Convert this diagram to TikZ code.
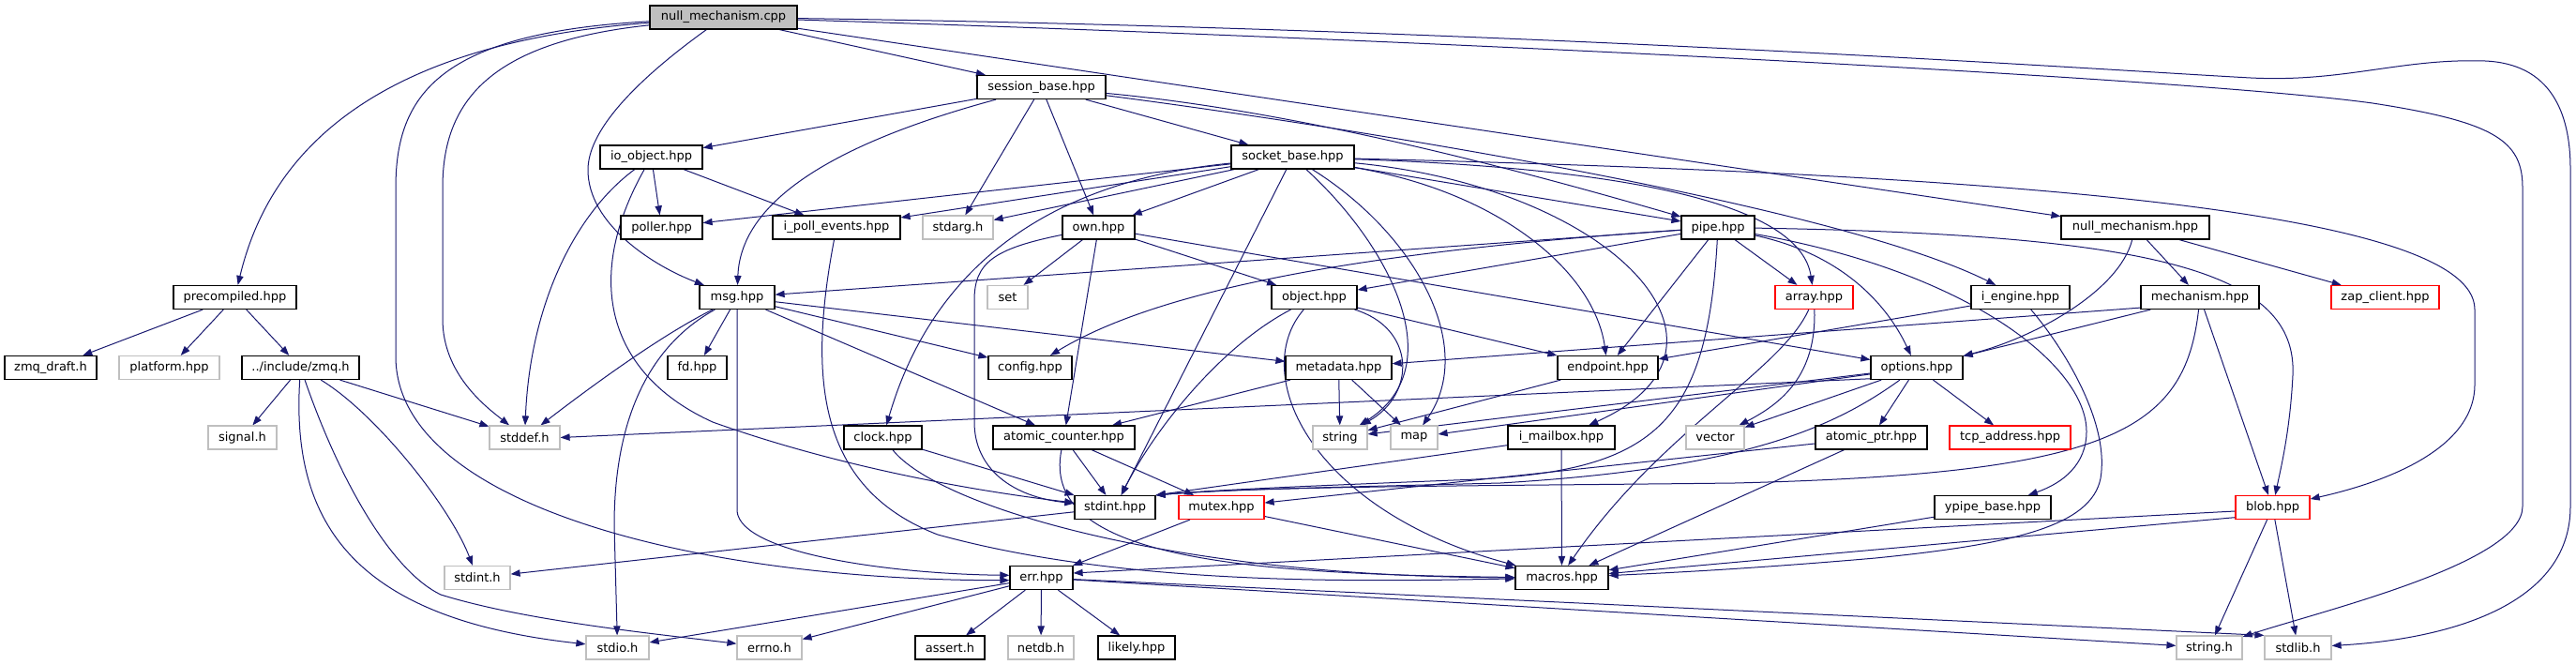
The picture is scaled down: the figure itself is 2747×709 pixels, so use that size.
\documentclass[tikz,border=0pt]{standalone}
\usepackage{fontspec}
\setmainfont{DejaVu Sans}
\usetikzlibrary{arrows.meta}
\pgfdeclarelayer{bg}
\pgfsetlayers{bg,main}
\definecolor{eblue}{HTML}{191970}
\definecolor{sysgray}{HTML}{BFBFBF}
\definecolor{rootfill}{HTML}{BFBFBF}
\begin{document}
\begin{tikzpicture}[x=0.75pt,y=-0.75pt,
  box/.style={draw=black,fill=white,line width=0.9pt,minimum height=18.75pt,minimum width=#1*0.75pt,inner sep=0pt,font=\fontsize{9.75}{11}\selectfont},
  sys/.style={box=#1,draw=sysgray},
  trunc/.style={box=#1,draw=red},
  dep/.style={draw=eblue,line width=0.75pt,-{Triangle[length=7.5pt,width=5.5pt]}}]
\useasboundingbox (0,0) rectangle (2747,709);
% rank 0
\node[box=157,fill=rootfill] (nmc) at (771.5,18.5) {null\_mechanism.cpp};
% rank 1
\node[box=137] (sb) at (1110.5,93) {session\_base.hpp};
% rank 2
\node[box=109] (io) at (694.5,167.5) {io\_object.hpp};
\node[box=131] (skb) at (1378.5,167.5) {socket\_base.hpp};
% rank 3
\node[box=87] (poller) at (705.5,242.5) {poller.hpp};
\node[box=136] (ipe) at (892,242.5) {i\_poll\_events.hpp};
\node[sys=75] (stdarg) at (1021.5,242.5) {stdarg.h};
\node[box=77] (own) at (1171.5,242.5) {own.hpp};
\node[box=78] (pipe) at (1832,242.5) {pipe.hpp};
\node[box=158] (nmh) at (2277,242.5) {null\_mechanism.hpp};
% rank 4
\node[box=131] (prec) at (250.5,317) {precompiled.hpp};
\node[box=80] (msg) at (786,317) {msg.hpp};
\node[sys=43] (set) at (1074.5,317) {set};
\node[box=91] (object) at (1401.5,317) {object.hpp};
\node[trunc=83] (array) at (1934.5,317) {array.hpp};
\node[box=105] (iengine) at (2154.5,317) {i\_engine.hpp};
\node[box=126] (mech) at (2346,317) {mechanism.hpp};
\node[trunc=115] (zap) at (2543.5,317) {zap\_client.hpp};
% rank 5
\node[box=98] (zmqdraft) at (54,392) {zmq\_draft.h};
\node[sys=107] (platform) at (180.5,392) {platform.hpp};
\node[box=125] (zmqh) at (320.5,392) {../include/zmq.h};
\node[box=63] (fd) at (743.5,392) {fd.hpp};
\node[box=89] (config) at (1098.5,392) {config.hpp};
\node[box=113] (metadata) at (1427.5,392) {metadata.hpp};
\node[box=107] (endpoint) at (1714.5,392) {endpoint.hpp};
\node[box=98] (options) at (2044,392) {options.hpp};
% rank 6
\node[sys=73] (signal) at (258.5,466.5) {signal.h};
\node[sys=75] (stddef) at (559.5,466.5) {stddef.h};
\node[box=83] (clock) at (941.5,466.5) {clock.hpp};
\node[box=151] (actr) at (1134.5,466.5) {atomic\_counter.hpp};
\node[sys=58] (string) at (1429,466.5) {string};
\node[sys=50] (map) at (1508,466.5) {map};
\node[box=114] (imailbox) at (1665,466.5) {i\_mailbox.hpp};
\node[sys=62] (vector) at (1829,466.5) {vector};
\node[box=119] (aptr) at (1995.5,466.5) {atomic\_ptr.hpp};
\node[trunc=129] (tcp) at (2143.5,466.5) {tcp\_address.hpp};
% rank 7
\node[box=86] (stdinthpp) at (1189,541) {stdint.hpp};
\node[trunc=91] (mutex) at (1302.5,541) {mutex.hpp};
\node[box=124] (ypipe) at (2125,541) {ypipe\_base.hpp};
\node[trunc=79] (blob) at (2423.5,541) {blob.hpp};
% rank 8
\node[sys=70] (stdinth) at (509,616) {stdint.h};
\node[box=67] (err) at (1110.5,616) {err.hpp};
\node[box=99] (macros) at (1665.5,616) {macros.hpp};
% rank 9
\node[sys=67] (stdio) at (658.5,690.5) {stdio.h};
\node[sys=69] (errno) at (820.5,690.5) {errno.h};
\node[box=74] (assert) at (1013,690.5) {assert.h};
\node[sys=70] (netdb) at (1110,690.5) {netdb.h};
\node[box=82] (likely) at (1212,690.5) {likely.hpp};
\node[sys=70] (stringh) at (2356,690.5) {string.h};
\node[sys=71] (stdlibh) at (2450.5,690.5) {stdlib.h};

\begin{pgfonlayer}{bg}
\fill[white] (0,0) rectangle (2747,709);
% null_mechanism.cpp
\draw[dep] (nmc) .. controls (480,40) and (300,110) .. (prec);
\draw[dep] (nmc) .. controls (520,45) and (472,110) .. (472,200) -- (472,340) .. controls (472,400) and (520,435) .. (stddef);
\draw[dep] (nmc) .. controls (470,35) and (422,100) .. (422,200) -- (422,380) .. controls (422,540) and (750,619) .. ([yshift=-2pt]err.west);
\draw[dep] (nmc) .. controls (700,70) and (628,130) .. (627,180) .. controls (626,240) and (700,285) .. (msg);
\draw[dep] (nmc) -- (sb);
\draw[dep] (nmc) -- (nmh);
\draw[dep] (nmc) .. controls (1600,45) and (2350,85) .. (2530,110) .. controls (2660,130) and (2690,150) .. (2690,200) -- (2690,540) .. controls (2690,600) and (2480,650) .. (stringh);
\draw[dep] (nmc) .. controls (1600,30) and (2250,75) .. (2400,83) .. controls (2500,88) and (2560,62) .. (2650,65) .. controls (2720,68) and (2741,120) .. (2741,180) -- (2741,540) .. controls (2741,650) and (2600,682) .. (stdlibh);
% session_base.hpp
\draw[dep] (sb) -- (io);
\draw[dep] (sb) .. controls (900,150) and (790,210) .. (msg);
\draw[dep] (sb) -- (stdarg);
\draw[dep] (sb) -- (own);
\draw[dep] (sb) -- (skb);
\draw[dep] (sb) .. controls (1400,120) and (1650,190) .. (pipe);
\draw[dep] (sb) .. controls (1400,130) and (1950,215) .. (iengine);
% socket_base.hpp
\draw[dep] (skb) -- (poller);
\draw[dep] (skb) -- (ipe);
\draw[dep] (skb) -- (stdarg);
\draw[dep] (skb) -- (own);
\draw[dep] (skb) .. controls (1100,195) and (990,300) .. (clock);
\draw[dep] (skb) -- (stdinthpp);
\draw[dep] (skb) .. controls (1480,260) and (1550,390) .. (string);
\draw[dep] (skb) .. controls (1510,250) and (1575,370) .. (map);
\draw[dep] (skb) .. controls (1600,205) and (1700,290) .. (endpoint);
\draw[dep] (skb) .. controls (1720,200) and (1880,370) .. (imailbox);
\draw[dep] (skb) -- (pipe);
\draw[dep] (skb) .. controls (1750,180) and (1920,220) .. (array);
\draw[dep] (skb) .. controls (2100,185) and (2639,220) .. (2639,330) -- (2639,410) .. controls (2639,480) and (2540,515) .. (blob);
% pipe.hpp
\draw[dep] (pipe) -- (msg);
\draw[dep] (pipe) .. controls (1500,265) and (1250,300) .. (config);
\draw[dep] (pipe) -- (object);
\draw[dep] (pipe) -- (endpoint);
\draw[dep] (pipe) -- (array);
\draw[dep] (pipe) .. controls (1820,460) and (1760,505) .. (1550,512) .. controls (1400,518) and (1300,522) .. (stdinthpp.north east);
\draw[dep] (pipe) .. controls (1960,270) and (2010,320) .. (options);
\draw[dep] (pipe) .. controls (2100,290) and (2225,390) .. (2225,460) .. controls (2225,495) and (2200,515) .. (ypipe);
\draw[dep] (pipe) .. controls (2300,250) and (2450,290) .. (2445,400) .. controls (2442,460) and (2432,500) .. (blob);
% own.hpp
\draw[dep] (own) -- (set);
\draw[dep] (own) -- (object);
\draw[dep] (own) -- (options);
\draw[dep] (own) -- (actr);
\draw[dep] (own) .. controls (1060,265) and (1039,280) .. (1039,320) -- (1039,450) .. controls (1039,500) and (1080,530) .. (stdinthpp);
% io_object.hpp
\draw[dep] (io) -- (poller);
\draw[dep] (io) -- (ipe);
\draw[dep] (io) .. controls (610,230) and (565,330) .. (stddef);
\draw[dep] (io) .. controls (620,300) and (650,400) .. (760,450) .. controls (900,500) and (1050,525) .. (stdinthpp);
% i_poll_events.hpp
\draw[dep] (ipe) .. controls (862,400) and (870,520) .. (1000,570) .. controls (1200,625) and (1450,620) .. (macros);
% object.hpp
\draw[dep] (object) .. controls (1510,350) and (1510,420) .. (string);
\draw[dep] (object) .. controls (1300,370) and (1230,460) .. (stdinthpp);
\draw[dep] (object) -- (endpoint);
\draw[dep] (object) .. controls (1330,400) and (1400,545) .. (macros);
% msg.hpp
\draw[dep] (msg) .. controls (700,360) and (620,420) .. (stddef);
\draw[dep] (msg) .. controls (690,370) and (655,450) .. (655,560) -- (stdio);
\draw[dep] (msg) -- (fd);
\draw[dep] (msg.south) -- (786,545) .. controls (790,590) and (950,612) .. ([yshift=2pt]err.west);
\draw[dep] (msg) -- (config);
\draw[dep] (msg) -- (metadata);
\draw[dep] (msg) -- (actr);
% precompiled.hpp
\draw[dep] (prec) -- (zmqdraft);
\draw[dep] (prec) -- (platform);
\draw[dep] (prec) -- (zmqh);
% zmq.h
\draw[dep] (zmqh) -- (signal);
\draw[dep] (zmqh) -- (stddef);
\draw[dep] (zmqh) .. controls (400,440) and (480,540) .. (stdinth);
\draw[dep] (zmqh) .. controls (310,560) and (380,660) .. (stdio);
\draw[dep] (zmqh) .. controls (365,520) and (420,610) .. (470,634) .. controls (560,662) and (700,676) .. (errno);
% metadata.hpp, endpoint.hpp
\draw[dep] (metadata) -- (string);
\draw[dep] (metadata) -- (map);
\draw[dep] (metadata) -- (actr);
\draw[dep] (endpoint) -- (string);
% options.hpp
\draw[dep] ([yshift=1pt]options.south west) -- (stddef.east);
\draw[dep] (options) -- (string);
\draw[dep] (options) -- (map);
\draw[dep] (options) -- (vector);
\draw[dep] (options) .. controls (1950,460) and (1850,500) .. (1600,515) .. controls (1400,520) and (1300,522) .. (stdinthpp.north east);
\draw[dep] (options) -- (aptr);
\draw[dep] (options) -- (tcp);
% null_mechanism.hpp
\draw[dep] (nmh) -- (mech);
\draw[dep] (nmh) .. controls (2260,310) and (2170,360) .. (options);
\draw[dep] (nmh) -- (zap);
% mechanism.hpp
\draw[dep] ([yshift=1.5pt]mech.south west) -- (metadata);
\draw[dep] (mech) -- (options);
\draw[dep] (mech) -- (blob);
\draw[dep] (mech) .. controls (2330,460) and (2250,505) .. (1850,515) .. controls (1600,518) and (1350,518) .. (stdinthpp.north east);
% i_engine.hpp
\draw[dep] (iengine) -- (endpoint);
\draw[dep] (iengine) .. controls (2200,370) and (2250,450) .. (2240,510) .. controls (2230,560) and (2150,580) .. (2000,595) .. controls (1850,608) and (1750,612) .. (macros);
% array.hpp
\draw[dep] (array) .. controls (1937,400) and (1900,430) .. (vector);
\draw[dep] (array) .. controls (1900,395) and (1770,460) .. ([xshift=5pt]macros.north);
% i_mailbox.hpp
\draw[dep] (imailbox) -- (stdinthpp.north east);
\draw[dep] (imailbox) -- (macros);
% atomic_counter.hpp
\draw[dep] (actr) -- (stdinthpp);
\draw[dep] (actr) -- (mutex);
\draw[dep] (actr) .. controls (1110,590) and (1300,612) .. (macros);
% clock.hpp
\draw[dep] (clock) -- (stdinthpp);
\draw[dep] (clock) .. controls (1000,540) and (1250,615) .. (macros);
% atomic_ptr.hpp
\draw[dep] (aptr) -- (mutex);
\draw[dep] (aptr) -- (macros);
% stdint.hpp, mutex.hpp, ypipe_base.hpp
\draw[dep] (stdinthpp) -- (stdinth);
\draw[dep] (mutex) -- (err);
\draw[dep] (mutex) -- (macros);
\draw[dep] (ypipe) -- (macros);
% blob.hpp
\draw[dep] ([yshift=-3pt]blob.west) -- ([yshift=3.75pt]err.east);
\draw[dep] ([yshift=-8pt]blob.west) -- (macros);
\draw[dep] (blob) -- (stringh);
\draw[dep] (blob) -- (stdlibh);
% err.hpp
\draw[dep] (err) -- (stdio);
\draw[dep] (err) -- (errno);
\draw[dep] (err) -- (assert);
\draw[dep] (err) -- (netdb);
\draw[dep] (err) -- (likely);
\draw[dep] (err) -- (stringh);
\draw[dep] (err) -- (stdlibh.north west);
\end{pgfonlayer}
\end{tikzpicture}
\end{document}
